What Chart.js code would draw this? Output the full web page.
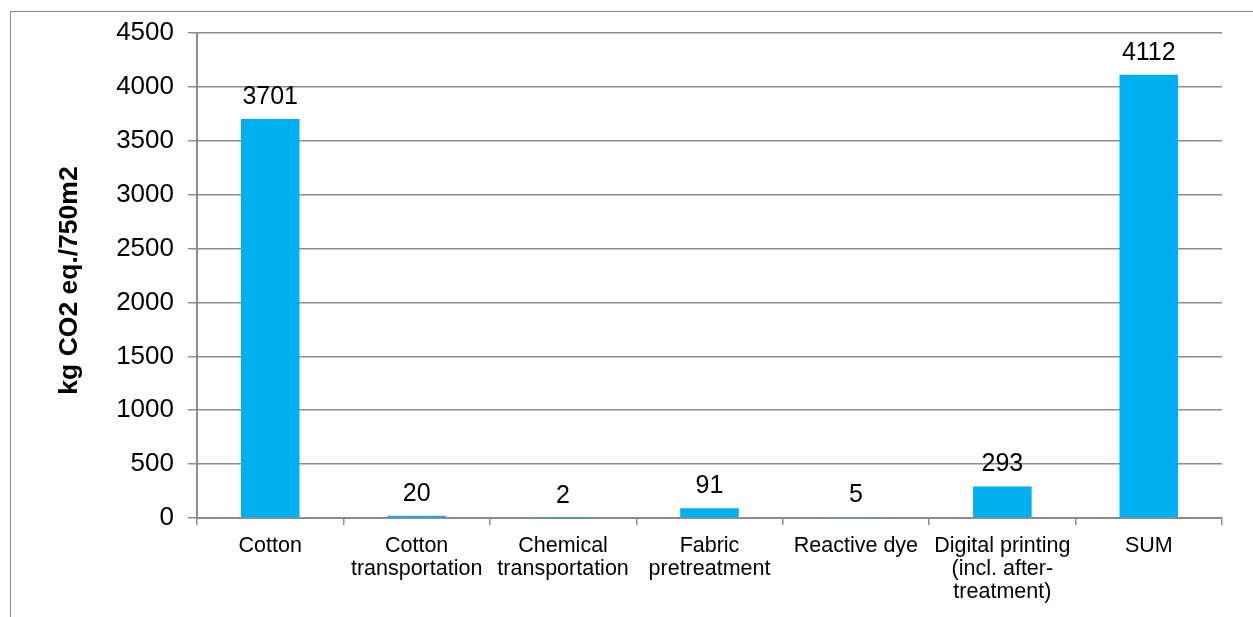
<!DOCTYPE html>
<html>
<head>
<meta charset="utf-8">
<script src="https://cdn.jsdelivr.net/npm/chart.js@4/dist/chart.umd.min.js"></script>
<style>
  html, body { margin: 0; padding: 0; background: #fff; overflow: hidden; }
  #frame { position: absolute; left: 10px; top: 11px; width: 1400px; height: 800px; border-left: 1.5px solid #8c8c8c; border-top: 1.5px solid #8c8c8c; }
  #wrap { position: absolute; left: 0; top: 0; width: 1253px; height: 617px; }
</style>
</head>
<body>
<div id="frame"></div>
<div id="wrap"><canvas id="chart"></canvas></div>
<script>
// categorias e valores
const categories = [
  'Cotton',
  ['Cotton', 'transportation'],
  ['Chemical', 'transportation'],
  ['Fabric', 'pretreatment'],
  'Reactive dye',
  ['Digital printing', '(incl. after-', 'treatment)'],
  'SUM'
];
const emissions = [3701, 20, 2, 91, 5, 293, 4112];
const yTicks = [0, 500, 1000, 1500, 2000, 2500, 3000, 3500, 4000, 4500];
const yTitle = 'kg CO2 eq./750m2';

const FONT = '"Liberation Sans", Arial, sans-serif';
const GRID = '#8c8c8c';

// rótulos de valor acima das barras
const valueLabels = {
  id: 'valueLabels',
  afterDatasetsDraw(chart) {
    const ctx = chart.ctx;
    const meta = chart.getDatasetMeta(0);
    ctx.save();
    ctx.font = '25px ' + FONT;
    ctx.fillStyle = '#000';
    ctx.textAlign = 'center';
    ctx.textBaseline = 'alphabetic';
    meta.data.forEach((bar, i) => {
      ctx.fillText(String(emissions[i]), bar.x, bar.y - 15);
    });
    ctx.restore();
  }
};

// título do eixo y
const axisTitle = {
  id: 'axisTitle',
  afterDraw(chart) {
    const ctx = chart.ctx;
    const area = chart.chartArea;
    ctx.save();
    ctx.translate(70, (area.top + area.bottom) / 2 + 5);
    ctx.rotate(-Math.PI / 2);
    ctx.font = 'bold 26.5px ' + FONT;
    ctx.fillStyle = '#000';
    ctx.textAlign = 'center';
    ctx.textBaseline = 'middle';
    ctx.fillText(yTitle, 0, 0);
    ctx.restore();
  }
};

new Chart(document.getElementById('chart'), {
  type: 'bar',
  data: {
    labels: categories,
    datasets: [{
      data: emissions,
      backgroundColor: '#00b0f0',
      borderWidth: 0,
      barPercentage: 0.4,
      categoryPercentage: 1
    }]
  },
  options: {
    responsive: true,
    maintainAspectRatio: false,
    animation: false,
    layout: { padding: { left: 0, top: 33, right: 31, bottom: 0 } },
    plugins: {
      legend: { display: false },
      tooltip: { enabled: false }
    },
    scales: {
      x: {
        afterFit(scale) { scale.height = 99; },
        grid: { display: true, drawOnChartArea: false, drawTicks: true, tickLength: 7, color: GRID, lineWidth: 1.5 },
        border: { display: true, color: GRID, width: 2 },
        ticks: { color: '#000', font: { family: FONT, size: 21.5, lineHeight: 1.07 }, padding: 10, maxRotation: 0, autoSkip: false }
      },
      y: {
        min: 0,
        max: 4500,
        afterFit(scale) { scale.width = 197; },
        afterBuildTicks(scale) { scale.ticks = yTicks.map(v => ({ value: v })); },
        grid: { color: GRID, lineWidth: 1.5, tickLength: 9 },
        border: { display: true, color: GRID, width: 2 },
        ticks: { color: '#000', font: { family: FONT, size: 26 }, padding: 14, callback: v => String(v) }
      }
    }
  },
  plugins: [valueLabels, axisTitle]
});
</script>
</body>
</html>
